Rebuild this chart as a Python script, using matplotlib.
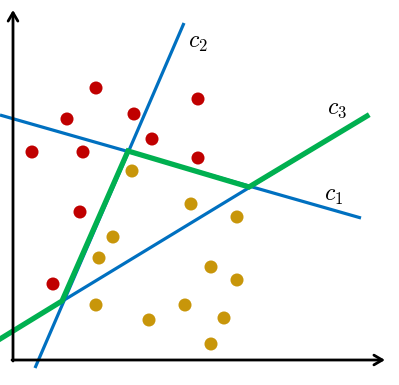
import numpy as np
import matplotlib.pyplot as plt

plt.rcParams['mathtext.fontset'] = 'cm'

# class 1 (red) and class 2 (gold) samples
red_x = [8.3, 5.4, 12.1, 13.9, 1.9, 7.0, 18.5, 18.5, 6.7, 4.0]
red_y = [27.2, 24.1, 24.6, 22.1, 20.8, 20.8, 26.1, 20.2, 14.8, 7.6]
gold_x = [11.9, 17.8, 10.0, 8.6, 8.3, 13.6, 17.2, 22.4, 19.8, 22.4, 21.1, 19.8]
gold_y = [18.9, 15.6, 12.3, 10.2, 5.5, 4.0, 5.5, 14.3, 9.3, 8.0, 4.2, 1.6]

# classifier lines (end points)
c1_x = [-1.3, 34.8]
c1_y = [24.5, 14.2]
c2_x = [2.2, 17.1]
c2_y = [-0.8, 33.7]
c3_x = [-1.3, 35.4]
c3_y = [2.1, 24.4]
# combined boundary
comb_x = [-1.3, 4.9, 11.5, 23.6, 35.4]
comb_y = [2.1, 5.9, 20.9, 17.3, 24.4]

blue = '#0070C0'
green = '#00B050'

fig = plt.figure(figsize=(3.99, 3.85), dpi=100)
ax = fig.add_axes([0, 0, 1, 1])
ax.set_xlim(-1.3, 38.6)
ax.set_ylim(-2.5, 36.0)
ax.axis('off')

for xs, ys in [(c1_x, c1_y), (c2_x, c2_y), (c3_x, c3_y)]:
    ax.plot(xs, ys, color=blue, lw=2.3, solid_capstyle='butt')
ax.plot(comb_x, comb_y, color=green, lw=3.8, solid_joinstyle='miter')

ax.scatter(red_x, red_y, s=88, color='#C00000', edgecolors='none', zorder=3)
ax.scatter(gold_x, gold_y, s=88, color='#C8960A', edgecolors='none', zorder=3)

# axes arrows
arrow = dict(arrowstyle='->,head_length=0.6,head_width=0.35', lw=2.0, color='black',
             shrinkA=0, shrinkB=0)
ax.annotate('', xy=(37.2, 0), xytext=(-0.1, 0), arrowprops=arrow)
ax.annotate('', xy=(0, 35.0), xytext=(0, -0.1), arrowprops=arrow)

ax.text(17.5, 31.8, r'$c_2$', fontsize=17, va='center', ha='left')
ax.text(31.4, 25.2, r'$c_3$', fontsize=17, va='center', ha='left')
ax.text(31.1, 16.5, r'$c_1$', fontsize=17, va='center', ha='left')

fig.savefig('out.png', dpi=100)
